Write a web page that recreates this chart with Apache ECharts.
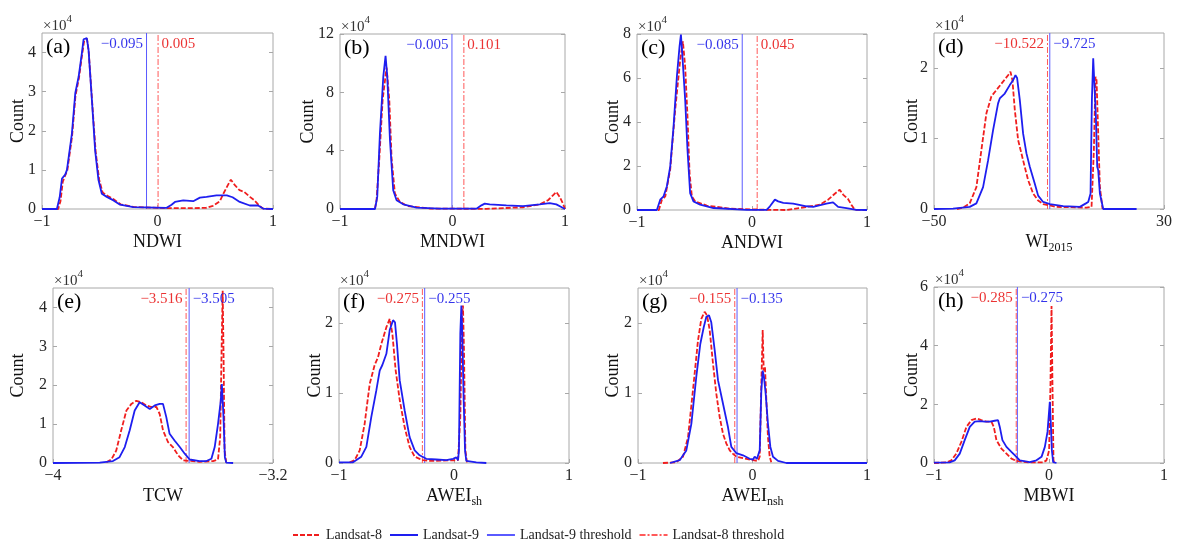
<!DOCTYPE html>
<html>
<head>
<meta charset="utf-8">
<script src="https://cdn.jsdelivr.net/npm/echarts@6/dist/echarts.min.js"></script>
<style>
html,body{margin:0;padding:0;background:#fff}
#chart{width:1177px;height:540px}
</style>
</head>
<body>
<div id="chart"></div>
<script>
// Histogram curves of eight water indices, counts in units of 10^4.
// Each series is a list of [index value, count] pairs.
const ndwiL8 = [[-1,0],[-0.86,0],[-0.84,0.2],[-0.82,0.7],[-0.80,0.85],[-0.78,1.0],[-0.74,1.85],[-0.71,2.9],[-0.68,3.35],[-0.655,3.9],[-0.635,4.3],[-0.61,4.35],[-0.595,4.0],[-0.565,2.7],[-0.535,1.45],[-0.505,0.75],[-0.475,0.42],[-0.43,0.33],[-0.38,0.25],[-0.32,0.12],[-0.2,0.05],[0.0,0.03],[0.15,0.02],[0.3,0.02],[0.42,0.03],[0.48,0.08],[0.54,0.2],[0.57,0.39],[0.60,0.56],[0.635,0.75],[0.67,0.61],[0.71,0.48],[0.75,0.44],[0.80,0.31],[0.84,0.22],[0.88,0.09],[0.915,0.01],[1,0]];
const ndwiL9 = [[-1,0],[-0.871,0],[-0.847,0.3],[-0.827,0.78],[-0.799,0.88],[-0.784,1.0],[-0.741,1.93],[-0.712,2.96],[-0.683,3.38],[-0.655,3.98],[-0.640,4.34],[-0.612,4.37],[-0.597,4.07],[-0.568,2.79],[-0.540,1.5],[-0.511,0.74],[-0.482,0.39],[-0.439,0.31],[-0.381,0.22],[-0.324,0.11],[-0.209,0.05],[0.079,0.03],[0.122,0.11],[0.151,0.18],[0.223,0.22],[0.309,0.2],[0.367,0.29],[0.424,0.31],[0.511,0.35],[0.60,0.35],[0.65,0.3],[0.712,0.18],[0.799,0.09],[0.871,0.09],[0.914,0.01],[1,0]];

const mndwiL8 = [[-1,0],[-0.69,0],[-0.675,0.6],[-0.651,3.4],[-0.621,7.5],[-0.586,9.7],[-0.562,7.5],[-0.541,3.4],[-0.512,1.06],[-0.467,0.48],[-0.4,0.2],[-0.2,0.03],[0.3,0.01],[0.627,0.12],[0.775,0.32],[0.849,0.6],[0.893,0.94],[0.923,1.17],[0.953,0.83],[0.982,0.37],[1,0]];
const mndwiL9 = [[-1,0],[-0.689,0],[-0.669,0.83],[-0.645,5.2],[-0.615,9.1],[-0.595,10.5],[-0.580,9.1],[-0.556,4.75],[-0.527,1.29],[-0.497,0.6],[-0.438,0.32],[-0.32,0.09],[-0.112,0.02],[0.213,0.02],[0.257,0.25],[0.287,0.37],[0.331,0.32],[0.479,0.25],[0.627,0.2],[0.775,0.32],[0.864,0.41],[0.923,0.32],[0.967,0.14],[1,0]];

const andwiL8 = [[-1,0],[-0.81,0],[-0.783,0.47],[-0.754,0.62],[-0.711,1.85],[-0.668,4.56],[-0.624,6.83],[-0.601,7.67],[-0.581,6.5],[-0.561,4.26],[-0.543,1.68],[-0.523,0.62],[-0.494,0.39],[-0.393,0.2],[-0.191,0.06],[0.127,0.01],[0.301,0.0],[0.474,0.14],[0.590,0.24],[0.662,0.47],[0.720,0.74],[0.763,0.92],[0.792,0.7],[0.835,0.5],[0.864,0.24],[0.893,0.01],[1,0]];
const andwiL9 = [[-1,0],[-0.827,0],[-0.798,0.47],[-0.769,0.62],[-0.740,1.08],[-0.711,1.98],[-0.682,3.8],[-0.653,6.08],[-0.630,7.44],[-0.618,7.97],[-0.607,7.14],[-0.581,5.0],[-0.561,2.74],[-0.538,0.77],[-0.509,0.39],[-0.451,0.24],[-0.335,0.09],[-0.046,0.01],[0.127,0.01],[0.156,0.17],[0.199,0.47],[0.228,0.39],[0.272,0.32],[0.358,0.29],[0.474,0.17],[0.532,0.14],[0.647,0.29],[0.705,0.35],[0.749,0.14],[0.821,0.09],[0.908,0.01],[1,0]];

const wiL8 = [[-42,0],[-39.9,0.02],[-37.58,0.08],[-35.26,0.31],[-33.51,0.84],[-31.77,1.36],[-30.03,1.6],[-28.29,1.69],[-25.97,1.81],[-24.23,1.9],[-23.41,1.95],[-22.72,1.83],[-21.9,1.41],[-20.74,0.98],[-19.0,0.69],[-17.26,0.41],[-15.52,0.22],[-13.78,0.12],[-12.04,0.07],[-7.39,0.03],[3.06,0.02],[4.8,0.03],[5.61,0.84],[6.19,1.88],[6.54,1.83],[7.12,1.07],[7.70,0.31],[8.63,0]];
const wiL9 = [[-50,0],[-43.38,0.005],[-37.58,0.03],[-35.26,0.08],[-32.93,0.31],[-31.19,0.69],[-29.45,1.12],[-27.71,1.5],[-27.13,1.57],[-26.55,1.55],[-25.39,1.64],[-23.65,1.76],[-22.48,1.83],[-21.67,1.9],[-21.09,1.86],[-20.16,1.55],[-19.0,1.07],[-17.84,0.79],[-16.68,0.6],[-14.94,0.36],[-13.78,0.19],[-12.04,0.1],[-9.71,0.07],[-5.07,0.04],[0.74,0.03],[2.83,0.08],[3.64,0.1],[4.45,0.22],[4.92,1.55],[5.38,2.14],[5.96,2.12],[6.31,1.31],[6.77,0.6],[7.12,0.55],[7.70,0.22],[8.86,0],[20.47,0]];

const tcwL8 = [[-3.806,0.02],[-3.788,0.09],[-3.770,0.32],[-3.752,0.84],[-3.733,1.35],[-3.715,1.52],[-3.697,1.6],[-3.679,1.56],[-3.661,1.48],[-3.642,1.44],[-3.624,1.44],[-3.612,1.26],[-3.600,0.84],[-3.582,0.54],[-3.564,0.41],[-3.545,0.2],[-3.527,0.07],[-3.467,0.03],[-3.418,0.05],[-3.400,0.09],[-3.392,0.67],[-3.387,2.89],[-3.383,4.43],[-3.380,2.89],[-3.376,0.32],[-3.370,0.01]];
const tcwL9 = [[-4,0],[-3.83,0.01],[-3.782,0.05],[-3.758,0.15],[-3.739,0.41],[-3.721,0.84],[-3.703,1.35],[-3.685,1.56],[-3.667,1.48],[-3.648,1.39],[-3.630,1.48],[-3.612,1.52],[-3.600,1.52],[-3.588,1.18],[-3.576,0.75],[-3.558,0.58],[-3.539,0.41],[-3.521,0.24],[-3.503,0.09],[-3.467,0.05],[-3.442,0.05],[-3.424,0.11],[-3.412,0.41],[-3.400,1.0],[-3.390,1.6],[-3.386,2.03],[-3.380,1.18],[-3.375,0.15],[-3.370,0.01],[-3.345,0]];

const aweiShL8 = [[-0.907,0.01],[-0.864,0.04],[-0.820,0.18],[-0.777,0.56],[-0.733,1.13],[-0.690,1.4],[-0.661,1.51],[-0.632,1.7],[-0.588,1.94],[-0.559,2.06],[-0.536,1.85],[-0.507,1.32],[-0.472,0.9],[-0.429,0.51],[-0.386,0.23],[-0.342,0.09],[-0.299,0.06],[-0.270,0.04],[-0.2,0.03],[0.035,0.04],[0.055,0.66],[0.070,2.08],[0.078,2.25],[0.087,1.6],[0.099,0.18],[0.113,0.01]];
const aweiShL9 = [[-1,0.01],[-0.878,0.01],[-0.806,0.09],[-0.762,0.23],[-0.719,0.66],[-0.675,1.04],[-0.646,1.32],[-0.623,1.4],[-0.588,1.56],[-0.559,1.9],[-0.530,2.04],[-0.513,2.01],[-0.496,1.7],[-0.472,1.18],[-0.429,0.75],[-0.386,0.37],[-0.342,0.18],[-0.299,0.11],[-0.241,0.06],[-0.154,0.05],[-0.067,0.04],[-0.009,0.06],[0.020,0.08],[0.035,0.04],[0.043,0.18],[0.055,1.85],[0.064,2.25],[0.072,1.85],[0.084,0.9],[0.096,0.18],[0.107,0.03],[0.194,0.01],[0.281,0]];

const aweiNshL8 = [[-0.782,0],[-0.665,0.01],[-0.607,0.09],[-0.563,0.37],[-0.520,1.04],[-0.476,1.75],[-0.447,2.06],[-0.418,2.16],[-0.397,2.11],[-0.374,1.9],[-0.345,1.42],[-0.316,0.99],[-0.287,0.66],[-0.258,0.42],[-0.229,0.28],[-0.199,0.18],[-0.170,0.13],[-0.141,0.09],[-0.054,0.06],[0.004,0.04],[0.048,0.03],[0.063,0.09],[0.077,1.13],[0.089,1.9],[0.098,1.32],[0.109,1.37],[0.121,0.9],[0.135,0.37],[0.150,0.09],[0.164,0.01]];
const aweiNshL9 = [[-0.72,0],[-0.636,0.04],[-0.578,0.18],[-0.534,0.56],[-0.491,1.23],[-0.456,1.7],[-0.426,1.94],[-0.403,2.09],[-0.380,2.11],[-0.360,2.01],[-0.330,1.61],[-0.301,1.18],[-0.258,0.85],[-0.214,0.51],[-0.185,0.23],[-0.141,0.14],[-0.083,0.11],[-0.025,0.06],[0.004,0.05],[0.019,0.09],[0.039,0.06],[0.063,0.18],[0.077,1.03],[0.089,1.32],[0.100,1.23],[0.115,0.99],[0.135,0.56],[0.156,0.23],[0.179,0.09],[0.223,0.03],[0.296,0],[1,0]];

const mbwiL8 = [[-1,0],[-0.893,0.02],[-0.849,0.09],[-0.806,0.32],[-0.762,0.72],[-0.718,1.23],[-0.675,1.46],[-0.631,1.52],[-0.588,1.46],[-0.544,1.41],[-0.501,1.41],[-0.480,1.23],[-0.457,0.78],[-0.414,0.49],[-0.370,0.32],[-0.327,0.15],[-0.283,0.07],[-0.167,0.02],[-0.051,0.02],[-0.022,0.09],[0.001,0.43],[0.013,2.71],[0.022,5.35],[0.030,2.71],[0.039,0.09],[0.051,0]];
const mbwiL9 = [[-1,0.01],[-0.864,0.02],[-0.820,0.09],[-0.776,0.32],[-0.733,0.78],[-0.689,1.23],[-0.646,1.41],[-0.602,1.43],[-0.559,1.41],[-0.515,1.41],[-0.472,1.44],[-0.443,1.46],[-0.428,1.23],[-0.405,0.78],[-0.370,0.55],[-0.327,0.38],[-0.283,0.21],[-0.254,0.09],[-0.167,0.03],[-0.109,0.09],[-0.065,0.21],[-0.036,0.55],[-0.013,1.06],[0.007,2.09],[0.016,1.35],[0.025,0.43],[0.036,0.03],[0.065,0]];

// Thresholds per index
const thresholdL8 = [0.005, 0.101, 0.045, -10.522, -3.516, -0.275, -0.155, -0.285];
const thresholdL9 = [-0.095, -0.005, -0.085, -9.725, -3.505, -0.255, -0.135, -0.275];

// Panel titles, axis names and ticks
const panelTags = ['(a)','(b)','(c)','(d)','(e)','(f)','(g)','(h)'];
const indexNames = ['{m|NDWI}','{m|MNDWI}','{m|ANDWI}','{m|WI}{sub|2015}','{m|TCW}','{m|AWEI}{sub|sh}','{m|AWEI}{sub|nsh}','{m|MBWI}'];
const xRanges = [[-1,1],[-1,1],[-1,1],[-50,30],[-4,-3.2],[-1,1],[-1,1],[-1,1]];
const xTicks = [[-1,0,1],[-1,0,1],[-1,0,1],[-50,30],[-4,-3.2],[-1,0,1],[-1,0,1],[-1,0,1]];
const yMaxes = [4.5, 12, 8, 2.5, 4.5, 2.5, 2.5, 6];
const yTicks = [[0,1,2,3,4],[0,4,8,12],[0,2,4,6,8],[0,1,2],[0,1,2,3,4],[0,1,2],[0,1,2],[0,2,4,6]];
const legendNames = ['Landsat-8', 'Landsat-9', 'Landsat-9 threshold', 'Landsat-8 threshold'];

const l8Series = [ndwiL8, mndwiL8, andwiL8, wiL8, tcwL8, aweiShL8, aweiNshL8, mbwiL8];
const l9Series = [ndwiL9, mndwiL9, andwiL9, wiL9, tcwL9, aweiShL9, aweiNshL9, mbwiL9];

// Layout of the 2x4 panels: [left, top, width, height] and gap of the "Count" title
const gridBoxes = [
  [42,33,231,176],[340,34,225,175],[637,34,230,176],[934,33,230,176],
  [53,288,220,175],[339,288,230,175],[638,288,229,175],[934,287,230,176]
];
const countGaps = [15,23,15,13,26,15,16,13];

const SERIF = '"Liberation Serif","Times New Roman",serif';
const RED = '#f01e1e', BLUE = '#1e1ef0';
const RED_T = '#ff5a5a', BLUE_T = '#5a5aff';
const RED_TXT = '#e60000', BLUE_TXT = '#0000e6';
const BOX = '#a8a8a8';

const minus = s => String(s).replace('-', '\u2212');
const fmt3 = v => (v < 0 ? '\u2212' : '') + Math.abs(v).toFixed(3);

const grid = [], xAxis = [], yAxis = [], series = [], graphic = [];

gridBoxes.forEach((b, i) => {
  grid.push({left: b[0], top: b[1], width: b[2], height: b[3], show: true,
    borderColor: BOX, borderWidth: 1, backgroundColor: '#fff', containLabel: false});
});

gridBoxes.forEach((b, i) => {
  const [xmin, xmax] = xRanges[i];
  xAxis.push({
    type: 'value', gridIndex: i, min: xmin, max: xmax,
    name: indexNames[i], nameLocation: 'middle', nameGap: 21, nameMoveOverlap: false,
    nameTextStyle: {fontFamily: SERIF, color: '#111',
      rich: {m: {fontFamily: SERIF, fontSize: 18, color: '#111', lineHeight: 24, verticalAlign: 'middle'},
             sub: {fontFamily: SERIF, fontSize: 12, color: '#111', lineHeight: 12, verticalAlign: 'bottom'}}},
    axisLine: {show: false, onZero: false},
    axisTick: {show: true, inside: true, length: 4, lineStyle: {color: BOX}, customValues: xTicks[i]},
    axisLabel: {fontFamily: SERIF, fontSize: 16, color: '#262626', margin: 5,
      customValues: xTicks[i], formatter: v => minus(v)},
    splitLine: {show: false}
  });
});

// Left axes carry labels, right axes only mirror the inward ticks
gridBoxes.forEach((b, i) => {
  yAxis.push({
    type: 'value', gridIndex: i, min: 0, max: yMaxes[i], position: 'left',
    name: 'Count', nameLocation: 'middle', nameGap: countGaps[i], nameMoveOverlap: false,
    nameTextStyle: {fontFamily: SERIF, fontSize: 18, color: '#111'},
    axisLine: {show: false, onZero: false},
    axisTick: {show: true, inside: true, length: 4, lineStyle: {color: BOX}, customValues: yTicks[i]},
    axisLabel: {fontFamily: SERIF, fontSize: 16, color: '#262626', margin: 6, customValues: yTicks[i]},
    splitLine: {show: false}
  });
});
gridBoxes.forEach((b, i) => {
  yAxis.push({
    type: 'value', gridIndex: i, min: 0, max: yMaxes[i], position: 'right',
    axisLine: {show: false, onZero: false},
    axisTick: {show: true, inside: true, length: 4, lineStyle: {color: BOX}, customValues: yTicks[i]},
    axisLabel: {show: false}, splitLine: {show: false}
  });
});

gridBoxes.forEach((b, i) => {
  const ymax = yMaxes[i];
  const t8 = thresholdL8[i], t9 = thresholdL9[i];
  series.push({
    name: legendNames[0], type: 'line', xAxisIndex: i, yAxisIndex: i, data: l8Series[i],
    symbol: 'none', z: 3, lineStyle: {color: RED, width: 1.8, type: [5, 2]}, itemStyle: {color: RED}
  });
  series.push({
    name: legendNames[1], type: 'line', xAxisIndex: i, yAxisIndex: i, data: l9Series[i],
    symbol: 'none', z: 4, lineStyle: {color: BLUE, width: 1.8}, itemStyle: {color: BLUE}
  });
  series.push({
    name: legendNames[2], type: 'line', xAxisIndex: i, yAxisIndex: i,
    data: [[t9, 0], [t9, ymax]], symbol: 'none', z: 2,
    lineStyle: {color: BLUE_T, width: 1}, itemStyle: {color: BLUE_T}
  });
  series.push({
    name: legendNames[3], type: 'line', xAxisIndex: i, yAxisIndex: i,
    data: [[t8, 0], [t8, ymax]], symbol: 'none', z: 2,
    lineStyle: {color: RED_T, width: 1, type: [6, 2, 2, 2]}, itemStyle: {color: RED_T}
  });
  // Threshold values written next to their lines: lower one on the left
  [[t8, RED_TXT], [t9, BLUE_TXT]].forEach(([t, col]) => {
    const other = t === t8 ? t9 : t8;
    const side = t < other ? 'left' : 'right';
    series.push({
      name: 'value', type: 'scatter', xAxisIndex: i, yAxisIndex: i, silent: true,
      data: [[t, ymax]], symbolSize: 1, itemStyle: {color: 'rgba(0,0,0,0)'}, z: 5,
      label: {show: true, position: side, distance: 3, offset: [0, 11],
        fontFamily: SERIF, fontSize: 15, color: col, formatter: p => fmt3(p.value[0])}
    });
  });

  graphic.push({
    type: 'text', left: b[0] + 4, top: b[1] + 3, z: 10,
    style: {text: panelTags[i], font: '22px ' + SERIF, fill: '#000'}
  });
  graphic.push({
    type: 'text', left: b[0] + 1, top: b[1] - 19, z: 10,
    style: {text: '{m|\u00d710}{s|4}', fill: '#333',
      rich: {m: {fontFamily: SERIF, fontSize: 15, lineHeight: 20, verticalAlign: 'bottom', fill: '#333'},
             s: {fontFamily: SERIF, fontSize: 11, lineHeight: 11, verticalAlign: 'top', fill: '#333'}}}
  });
});

const chart = echarts.init(document.getElementById('chart'), null, {renderer: 'canvas'});
chart.setOption({
  backgroundColor: '#fff',
  animation: false,
  grid, xAxis, yAxis, series, graphic,
  legend: {
    data: legendNames,
    left: 287, top: 523, itemWidth: 28, itemHeight: 10, itemGap: 7,
    itemStyle: {opacity: 0},
    textStyle: {fontFamily: SERIF, fontSize: 14, color: '#222'}
  }
});
</script>
</body>
</html>
